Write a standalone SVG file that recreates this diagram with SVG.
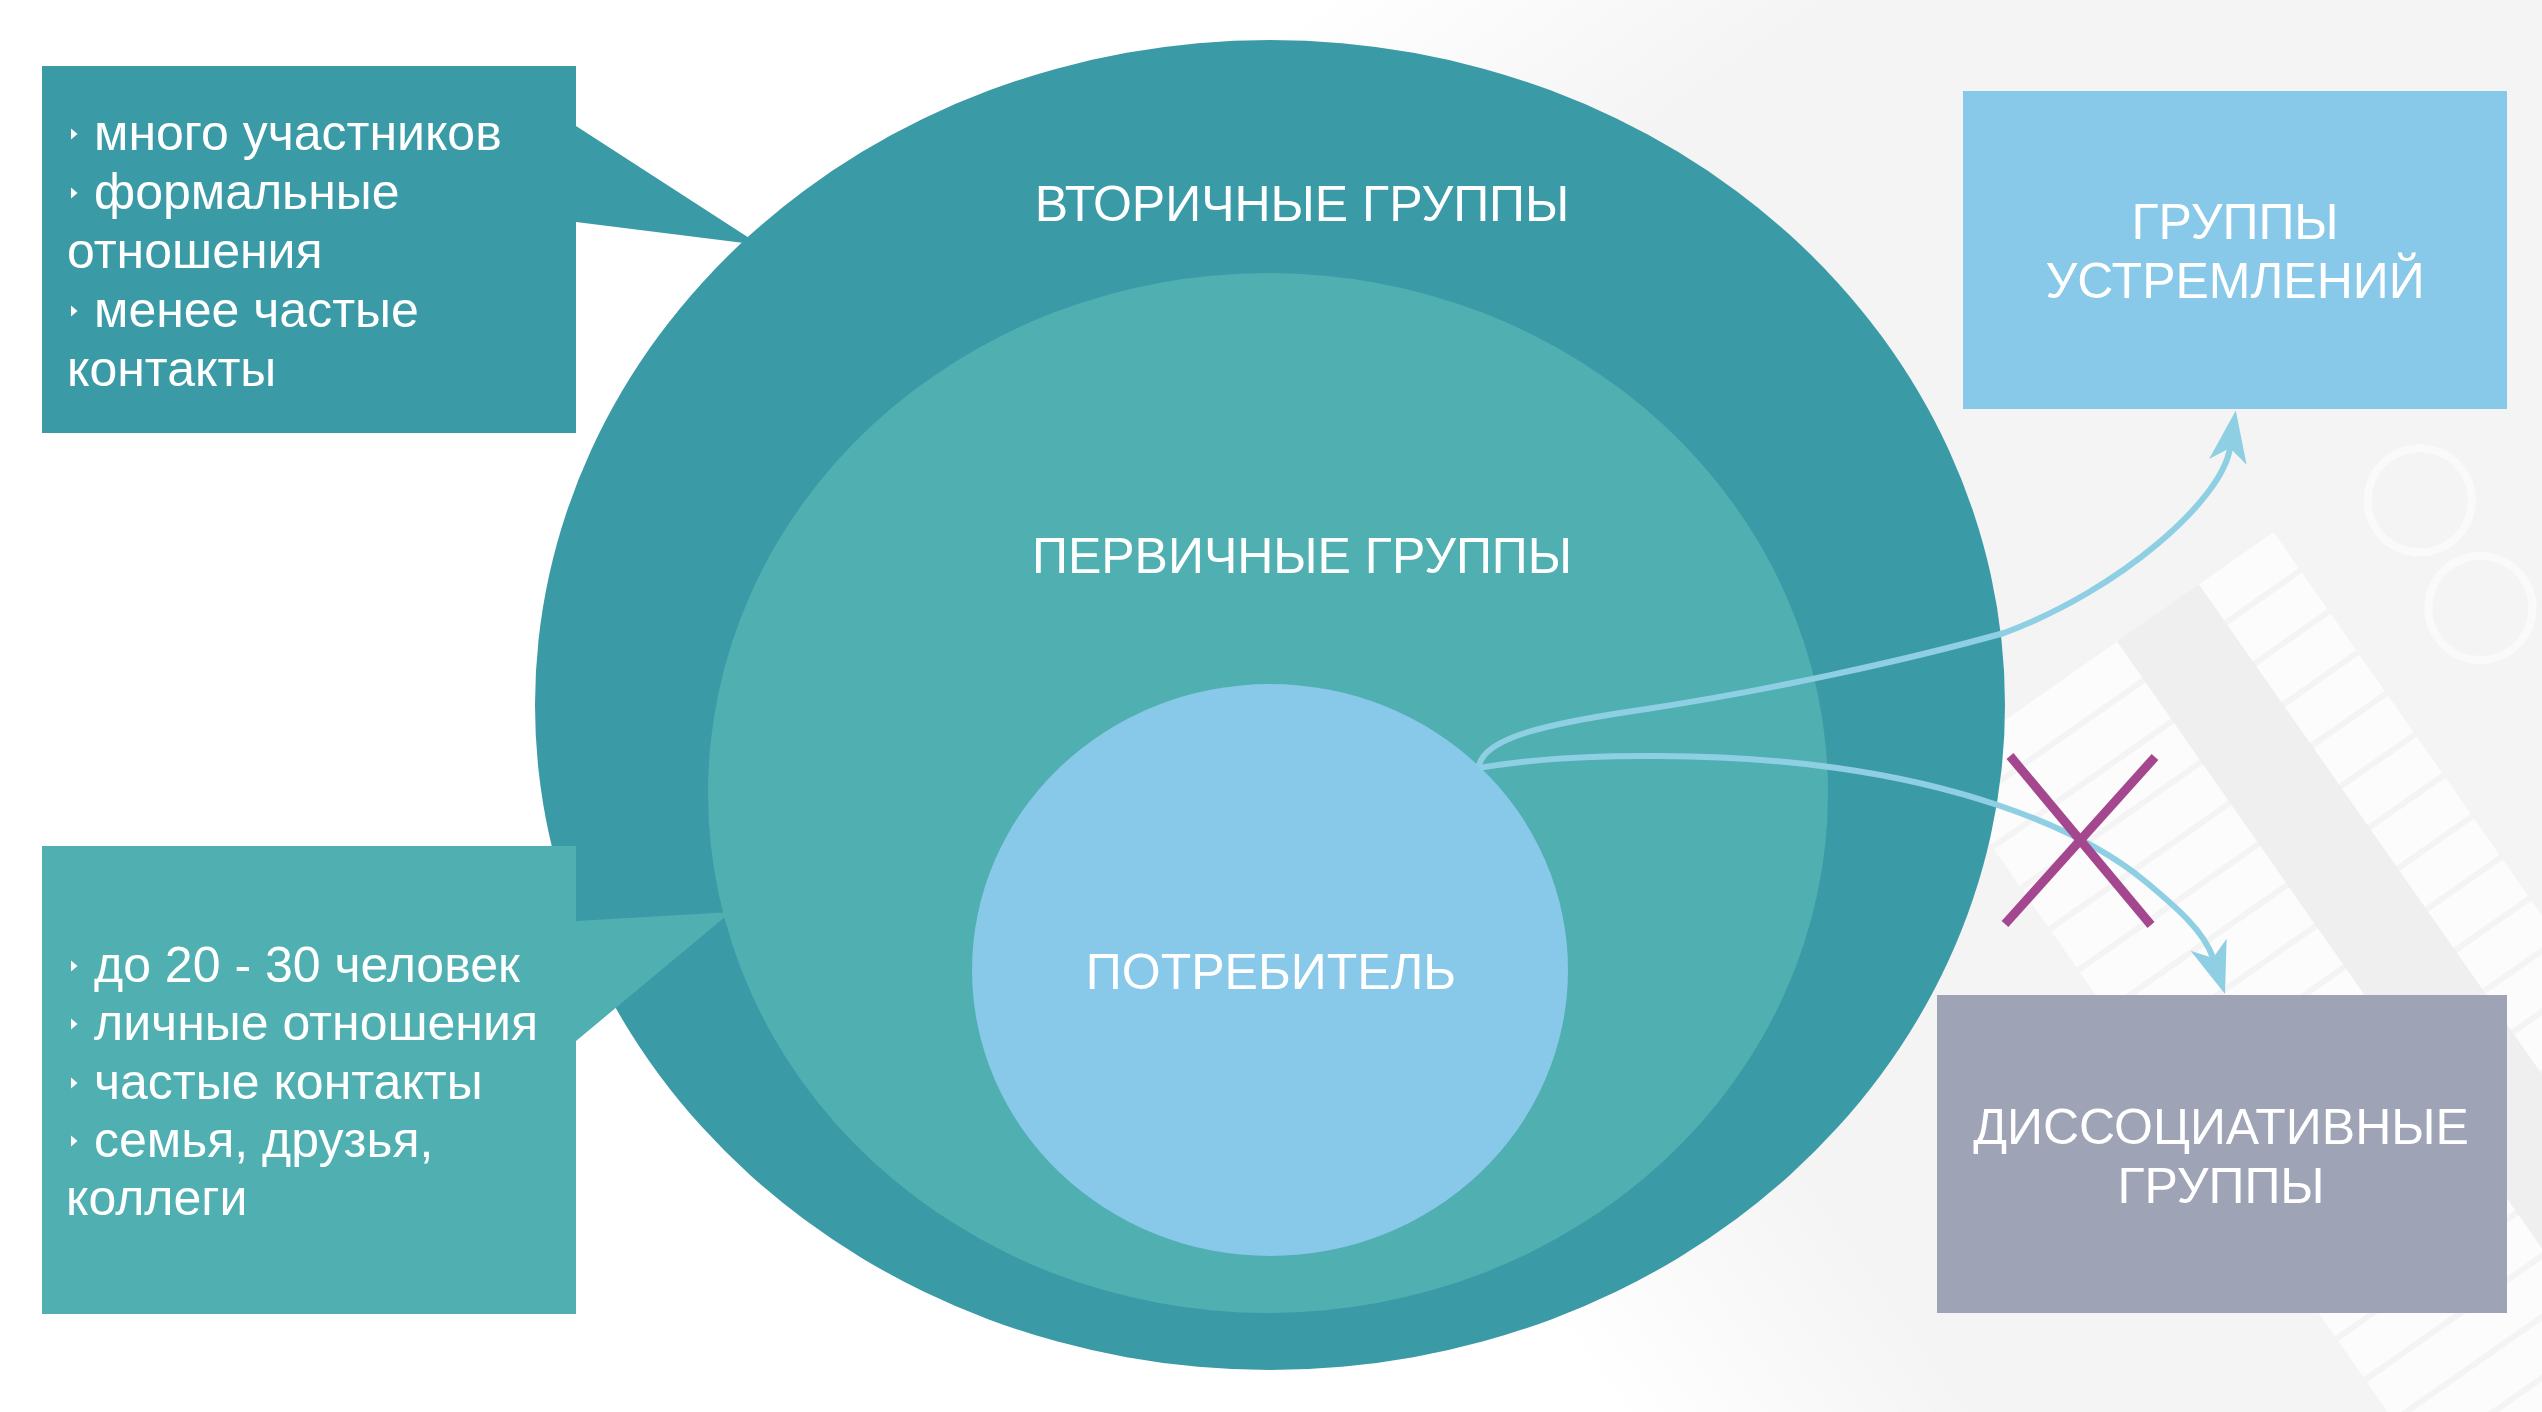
<svg xmlns="http://www.w3.org/2000/svg" width="2542" height="1412" viewBox="0 0 2542 1412">
<defs>
<style>
.lbl{font-family:"Liberation Sans",Arial,sans-serif;font-size:50px;fill:#ffffff}
.mid{text-anchor:middle}
.conn{fill:none;stroke:#8ECFE4;stroke-width:6}
.cross{stroke:#A4478E;stroke-width:9;stroke-linecap:butt}
.bul{fill:#ffffff}
</style>
<marker id="arrow" viewBox="-54 -21 56 42" markerWidth="56" markerHeight="42" markerUnits="userSpaceOnUse" refX="-38" refY="0" orient="auto">
<path d="M0,0 L-52,-19 L-38,0 L-52,19 Z" fill="#8ECFE4"/>
</marker>
<polygon id="bullet" points="0,-5.5 6.5,0 0,5.5"/>
<pattern id="cells" patternUnits="userSpaceOnUse" x="-19" y="0" width="50" height="400">
<rect width="44" height="400" fill="#FCFCFC"/>
</pattern>
<linearGradient id="fadeX" x1="0" y1="0" x2="1" y2="0">
<stop offset="0" stop-color="#ffffff" stop-opacity="1"/>
<stop offset="1" stop-color="#ffffff" stop-opacity="0"/>
</linearGradient>
<linearGradient id="fadeY" x1="0" y1="0" x2="0" y2="1">
<stop offset="0" stop-color="#ffffff" stop-opacity="0"/>
<stop offset="1" stop-color="#ffffff" stop-opacity="1"/>
</linearGradient>
</defs>

<g id="background">
<rect width="2542" height="1412" fill="#ffffff"/>
<g transform="translate(2168,629) rotate(55)">
<rect x="-1000" y="-700" width="2600" height="1600" fill="#F4F4F4"/>
<rect x="-19" y="-51" width="1400" height="100" fill="#EFEFEF"/>
<rect x="-19" y="-142" width="1400" height="91" fill="url(#cells)"/>
<rect x="-19" y="49" width="1400" height="220" fill="url(#cells)"/>
<circle cx="39" cy="-280" r="52" fill="none" stroke="#FAFAFA" stroke-width="8"/>
<circle cx="162" cy="-268" r="52" fill="none" stroke="#FAFAFA" stroke-width="8"/>
<rect x="-1000" y="-700" width="300" height="1600" fill="url(#fadeX)"/>
<rect x="-1000" y="600" width="2600" height="300" fill="url(#fadeY)"/>
</g>
</g>

<g id="secondary-groups">
<ellipse cx="1270" cy="705" rx="735" ry="665" fill="#3A9AA6"/>
<text class="lbl mid" x="1302" y="221">ВТОРИЧНЫЕ ГРУППЫ</text>
</g>

<g id="primary-groups">
<ellipse cx="1268" cy="793" rx="560" ry="520" fill="#50AFB1"/>
<text class="lbl mid" x="1302" y="573">ПЕРВИЧНЫЕ ГРУППЫ</text>
</g>

<g id="consumer">
<ellipse cx="1270" cy="970" rx="298" ry="286" fill="#88C8E8"/>
<text class="lbl mid" x="1271" y="989">ПОТРЕБИТЕЛЬ</text>
</g>

<g id="secondary-info">
<polygon points="576,126 760,245 576,222" fill="#3A9AA6"/>
<rect x="42" y="66" width="534" height="367" fill="#3A9AA6"/>
<use href="#bullet" class="bul" x="71" y="134"/>
<text class="lbl" x="94" y="150">много участников</text>
<use href="#bullet" class="bul" x="71" y="193"/>
<text class="lbl" x="94" y="209">формальные</text>
<text class="lbl" x="67" y="268">отношения</text>
<use href="#bullet" class="bul" x="71" y="311"/>
<text class="lbl" x="94" y="327">менее частые</text>
<text class="lbl" x="67" y="386">контакты</text>
</g>

<g id="primary-info">
<polygon points="576,921 731,912 576,1041" fill="#50AFB1"/>
<rect x="42" y="846" width="534" height="468" fill="#50AFB1"/>
<use href="#bullet" class="bul" x="71" y="966"/>
<text class="lbl" x="94" y="982">до 20 - 30 человек</text>
<use href="#bullet" class="bul" x="71" y="1024"/>
<text class="lbl" x="94" y="1040">личные отношения</text>
<use href="#bullet" class="bul" x="71" y="1083"/>
<text class="lbl" x="94" y="1099">частые контакты</text>
<use href="#bullet" class="bul" x="71" y="1141"/>
<text class="lbl" x="94" y="1157">семья, друзья,</text>
<text class="lbl" x="66" y="1215">коллеги</text>
</g>

<g id="aspirational-groups">
<rect x="1963" y="91" width="544" height="318" fill="#88C8E8"/>
<text class="lbl mid" x="2235" y="239">ГРУППЫ</text>
<text class="lbl mid" x="2235" y="298">УСТРЕМЛЕНИЙ</text>
</g>

<g id="dissociative-groups">
<rect x="1937" y="995" width="570" height="318" fill="#9FA3B6"/>
<text class="lbl mid" x="2221" y="1144">ДИССОЦИАТИВНЫЕ</text>
<text class="lbl mid" x="2221" y="1203">ГРУППЫ</text>
</g>

<g id="connectors">
<path class="conn" marker-end="url(#arrow)" d="M1479,766 C1484,738 1545,724 1640,710 C1760,692 1900,662 2004,633 C2120,590 2222,500 2230,448"/>
<path class="conn" marker-end="url(#arrow)" d="M1479,768 C1580,750 1740,754 1837,768 C1937,782 2066,816 2146,882 C2176,907 2204,931 2213,958"/>
<line class="cross" x1="2010" y1="756" x2="2151" y2="925"/>
<line class="cross" x1="2155" y1="757" x2="2005" y2="924"/>
</g>
</svg>
